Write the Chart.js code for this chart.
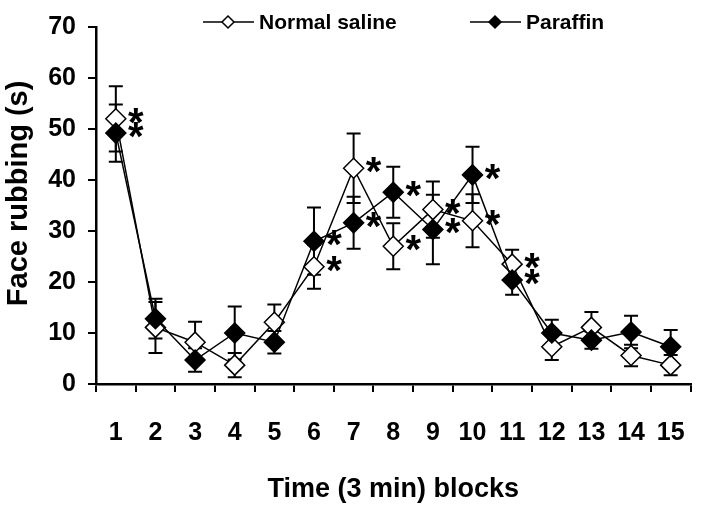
<!DOCTYPE html>
<html lang="en">
<head>
    <meta charset="UTF-8">
    <title>Face rubbing</title>
    <script src="https://cdn.jsdelivr.net/npm/chart.js"></script>
    <style>
        body { margin: 0; background: #fff; }
        canvas { display: block; }
    </style>
</head>
<body>
    <canvas id="rubChart" width="702" height="520"></canvas>
    <script>
        // Werte
        const blocks = ['1', '2', '3', '4', '5', '6', '7', '8', '9', '10', '11', '12', '13', '14', '15'];
        const salineMean = [52, 11.1, 8.2, 3.7, 12.1, 23, 42.3, 27, 34.2, 32, 23.5, 7.3, 11.1, 5.6, 3.7];
        const salineSem = [6.4, 5, 4, 2.4, 3.5, 4.3, 6.8, 4.5, 5.5, 5.2, 2.8, 2.6, 3, 2.1, 2];
        const paraffinMean = [49.2, 12.8, 4.7, 10, 8.2, 28, 31.6, 37.6, 30.3, 41, 20.4, 10, 8.6, 10.2, 7.3];
        const paraffinSem = [5.6, 3.9, 2.3, 5.2, 2.2, 6.6, 5.1, 5, 6.8, 5.5, 2.9, 2.6, 1.7, 3.2, 3.3];
        const salineSig = [1, 0, 0, 0, 0, 1, 1, 1, 1, 1, 1, 0, 0, 0, 0];
        const paraffinSig = [1, 0, 0, 0, 0, 1, 1, 1, 1, 1, 1, 0, 0, 0, 0];
        const yTicks = [0, 10, 20, 30, 40, 50, 60, 70];

        const FONT = '"Liberation Sans", Arial, sans-serif';

        const extras = {
            id: 'extras',
            beforeDatasetsDraw(chart) {
                const ctx = chart.ctx;
                const x = chart.scales.x, y = chart.scales.y;
                ctx.save();
                ctx.strokeStyle = '#000';
                ctx.lineWidth = 2;
                [[salineMean, salineSem], [paraffinMean, paraffinSem]].forEach(([m, e]) => {
                    m.forEach((v, i) => {
                        const px = x.getPixelForValue(i);
                        const top = y.getPixelForValue(v + e[i]);
                        const bot = y.getPixelForValue(v - e[i]);
                        ctx.beginPath();
                        ctx.moveTo(px, top); ctx.lineTo(px, bot);
                        ctx.moveTo(px - 7, top); ctx.lineTo(px + 7, top);
                        ctx.moveTo(px - 7, bot); ctx.lineTo(px + 7, bot);
                        ctx.stroke();
                    });
                });
                ctx.restore();
            },
            afterDatasetsDraw(chart) {
                const ctx = chart.ctx;
                const x = chart.scales.x, y = chart.scales.y;
                ctx.save();
                ctx.fillStyle = '#000';
                ctx.font = 'bold 40px ' + FONT;
                ctx.textAlign = 'center';
                ctx.textBaseline = 'alphabetic';
                [[salineMean, salineSig], [paraffinMean, paraffinSig]].forEach(([m, s]) => {
                    m.forEach((v, i) => {
                        if (!s[i]) return;
                        const px = x.getPixelForValue(i) + 20;
                        const py = y.getPixelForValue(v) - 6;
                        ctx.fillText('*', px, py + 23);
                    });
                });
                ctx.restore();
            },
            afterDraw(chart) {
                // Legende oben
                const ctx = chart.ctx;
                const items = [
                    { text: 'Normal saline', x: 203, fill: '#fff' },
                    { text: 'Paraffin', x: 470, fill: '#000' }
                ];
                ctx.save();
                items.forEach(it => {
                    const cy = 22;
                    ctx.strokeStyle = '#000';
                    ctx.lineWidth = 1.5;
                    ctx.beginPath();
                    ctx.moveTo(it.x, cy); ctx.lineTo(it.x + 51, cy);
                    ctx.stroke();
                    const cx = it.x + 25;
                    ctx.beginPath();
                    ctx.moveTo(cx, cy - 6); ctx.lineTo(cx + 6, cy);
                    ctx.lineTo(cx, cy + 6); ctx.lineTo(cx - 6, cy);
                    ctx.closePath();
                    ctx.fillStyle = it.fill;
                    ctx.fill();
                    ctx.stroke();
                    ctx.fillStyle = '#000';
                    ctx.font = 'bold 21px ' + FONT;
                    ctx.textAlign = 'left';
                    ctx.textBaseline = 'middle';
                    ctx.fillText(it.text, it.x + 56, cy + 1);
                });
                ctx.restore();
            }
        };

        new Chart(document.getElementById('rubChart'), {
            type: 'line',
            data: {
                labels: blocks,
                datasets: [{
                    label: 'Normal saline',
                    data: salineMean,
                    order: 1,
                    borderColor: '#000',
                    borderWidth: 1.5,
                    pointStyle: 'rectRot',
                    pointRadius: 10,
                    pointBackgroundColor: '#fff',
                    pointBorderColor: '#000',
                    pointBorderWidth: 1.5,
                    tension: 0
                }, {
                    label: 'Paraffin',
                    data: paraffinMean,
                    order: 0,
                    borderColor: '#000',
                    borderWidth: 1.5,
                    pointStyle: 'rectRot',
                    pointRadius: 10,
                    pointBackgroundColor: '#000',
                    pointBorderColor: '#000',
                    pointBorderWidth: 1.5,
                    tension: 0
                }]
            },
            options: {
                responsive: false,
                animation: false,
                layout: { padding: { top: 24, right: 8, bottom: 0, left: 0 } },
                plugins: {
                    legend: { display: false },
                    tooltip: { enabled: false }
                },
                scales: {
                    x: {
                        type: 'category',
                        offset: true,
                        grid: { offset: true, drawOnChartArea: false, drawTicks: true, tickLength: 8, color: '#000', lineWidth: 2 },
                        border: { display: true, color: '#000', width: 2.5 },
                        ticks: { color: '#000', font: { family: FONT, size: 25, weight: 'bold' }, padding: 26, maxRotation: 0, autoSkip: false },
                        title: { display: true, text: 'Time (3 min) blocks', color: '#000', font: { family: FONT, size: 27, weight: 'bold' }, padding: { top: 0, bottom: 14 } },
                        afterFit(s) { s.height = 136; s.paddingLeft = 0; s.paddingRight = 0; }
                    },
                    y: {
                        min: 0,
                        max: 70,
                        afterBuildTicks(s) { s.ticks = yTicks.map(v => ({ value: v })); },
                        grid: { drawOnChartArea: false, drawTicks: true, tickLength: 8, color: '#000', lineWidth: 2 },
                        border: { display: true, color: '#000', width: 2.5 },
                        ticks: { color: '#000', font: { family: FONT, size: 25, weight: 'bold' }, padding: 12 },
                        title: { display: true, text: '   Face rubbing (s)', color: '#000', font: { family: FONT, size: 29, weight: 'bold' }, padding: { top: 2, bottom: 0 } },
                        afterFit(s) { s.width = 96; }
                    }
                }
            },
            plugins: [extras]
        });
    </script>
</body>
</html>
